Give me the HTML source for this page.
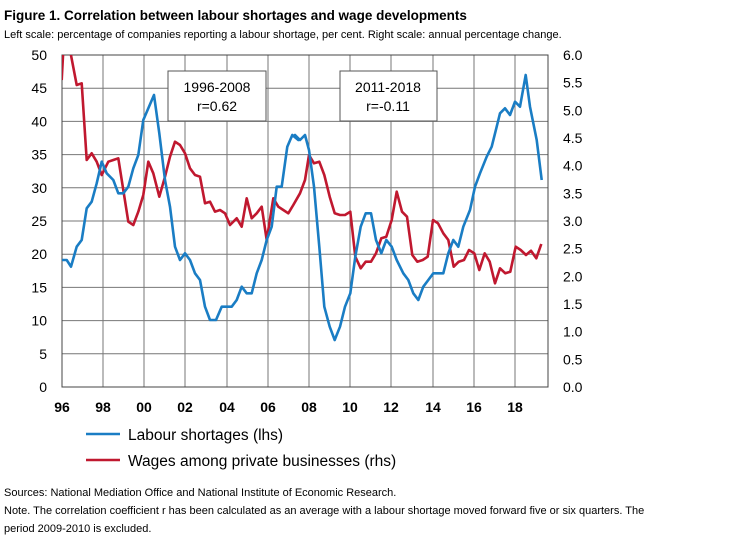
<!DOCTYPE html><html><head><style>
body{margin:0;width:750px;height:544px;background:#fff;font-family:"Liberation Sans",sans-serif;overflow:hidden;position:relative}
.t{position:absolute;white-space:nowrap;color:#000}
</style></head><body>
<div class="t" style="left:4px;top:8px;font-size:13.5px;font-weight:bold">Figure 1. Correlation between labour shortages and wage developments</div>
<div class="t" style="left:4px;top:29px;font-size:11px">Left scale: percentage of companies reporting a labour shortage, per cent. Right scale: annual percentage change.</div>
<svg id="s" width="750" height="544" style="position:absolute;left:0;top:0" font-family="Liberation Sans, sans-serif"></svg>
<div class="t" style="left:4px;top:487px;font-size:11px">Sources: National Mediation Office and National Institute of Economic Research.</div>
<div class="t" style="left:4px;top:505px;font-size:11px">Note. The correlation coefficient r has been calculated as an average with a labour shortage moved forward five or six quarters. The</div>
<div class="t" style="left:4px;top:523px;font-size:11px">period 2009-2010 is excluded.</div>
<script>
const s=document.getElementById('s');let h='';
const L=62,R=548,T=55,B=387;
h+='<defs><clipPath id="c"><rect x="'+L+'" y="'+T+'" width="'+(R-L)+'" height="'+(B-T)+'"/></clipPath></defs>';
for(let i=0;i<=10;i++){const y=B-(B-T)*i/10;h+='<line x1="'+L+'" x2="'+R+'" y1="'+y+'" y2="'+y+'" stroke="#777" stroke-width="1"/>';
h+='<text x="47" y="'+(y+5)+'" text-anchor="end" font-size="14">'+(i*5)+'</text>';}
for(let i=0;i<=12;i++){const y=B-(B-T)*i/12;h+='<text x="563" y="'+(y+5)+'" font-size="14">'+(i*0.5).toFixed(1)+'</text>';}
const xs=[62,103,144,185,227,268,309,350,391,433,474,515];const lab=['96','98','00','02','04','06','08','10','12','14','16','18'];
xs.forEach((x,i)=>{h+='<line x1="'+x+'" x2="'+x+'" y1="'+T+'" y2="'+B+'" stroke="#777"/>';h+='<text x="'+x+'" y="412" text-anchor="middle" font-size="14" font-weight="bold">'+lab[i]+'</text>';});
h+='<rect x="'+L+'" y="'+T+'" width="'+(R-L)+'" height="'+(B-T)+'" fill="none" stroke="#444"/>';
function P(a,off){return a.map(p=>[(off+p[0]/3),(40+p[1]/3)]);}
const b1=[[185,660],[200,660],[213,680],[230,620],[245,600],[260,505],[275,485],[290,430],[305,365],[320,400],[340,420],[355,460],[370,460],[385,440],[400,385],[415,345],[430,240],[462,165],[478,280],[495,420],[510,500],[525,620],[540,660],[555,640],[570,660],[585,700],[600,720],[615,800],[630,840],[648,840],[665,800],[695,800],[710,780],[725,740],[740,760],[755,760],[770,700],[785,660],[800,600],[815,560],[830,440],[845,440],[862,320],[877,285],[895,300]];
const b2=[[15,285],[30,300],[45,285],[57,330],[72,440],[88,620],[103,800],[119,860],[134,900],[150,860],[165,800],[181,760],[196,650],[212,560],[227,520],[243,520],[258,600],[274,640],[289,600],[305,620],[320,660],[340,700],[355,720],[370,760],[385,780],[400,740],[415,720],[430,700],[445,700],[460,700],[475,640],[490,600],[505,620],[520,560],[540,510],[555,440],[570,400],[590,350],[605,320],[620,260],[630,220],[645,205],[660,225],[675,185],[690,200],[707,105],[720,200],[740,300],[755,420]];
const r1=[[185,120],[190,30],[210,30],[230,135],[245,130],[260,360],[275,340],[290,365],[305,405],[325,365],[340,360],[355,355],[370,450],[385,545],[400,555],[415,515],[430,465],[445,365],[460,400],[478,470],[495,410],[510,350],[525,305],[540,315],[555,340],[570,385],[585,405],[600,410],[615,490],[630,485],[645,515],[660,510],[675,520],[690,555],[710,535],[725,560],[740,475],[755,535],[770,520],[785,500],[800,600],[820,475],[835,500],[850,510],[865,520],[880,495]];
const r2=[[30,460],[45,420],[57,345],[72,370],[88,365],[103,405],[119,470],[134,520],[150,525],[165,525],[181,515],[196,650],[212,685],[227,665],[243,665],[258,640],[274,595],[289,590],[305,540],[320,455],[336,515],[351,530],[367,645],[382,665],[398,660],[413,650],[429,540],[444,550],[460,580],[475,600],[491,680],[506,665],[522,660],[537,630],[553,640],[568,690],[584,640],[599,665],[615,730],[630,685],[646,700],[661,695],[677,620],[692,630],[708,645],[723,632],[739,655],[754,612]];
const blue=P(b1,0).concat(P(b2,290)),red=P(r1,0).concat(P(r2,290));
const pl=(a,c)=>'<polyline clip-path="url(#c)" fill="none" stroke="'+c+'" stroke-width="2.6" stroke-linejoin="round" points="'+a.map(p=>p[0].toFixed(1)+','+p[1].toFixed(1)).join(' ')+'"/>';
h+=pl(red,'#c0182f')+pl(blue,'#1a7dc4');
h+='<rect x="168" y="71" width="98" height="50" fill="#fff" stroke="#555"/><text x="217" y="92" text-anchor="middle" font-size="14">1996-2008</text><text x="217" y="111" text-anchor="middle" font-size="14">r=0.62</text>';
h+='<rect x="340" y="71" width="97" height="50" fill="#fff" stroke="#555"/><text x="388" y="92" text-anchor="middle" font-size="14">2011-2018</text><text x="388" y="111" text-anchor="middle" font-size="14">r=-0.11</text>';
h+='<line x1="86" x2="120" y1="434" y2="434" stroke="#1a7dc4" stroke-width="2.6"/><text x="128" y="440" font-size="15.5">Labour shortages (lhs)</text>';
h+='<line x1="86" x2="120" y1="460" y2="460" stroke="#c0182f" stroke-width="2.6"/><text x="128" y="466" font-size="15.5">Wages among private businesses (rhs)</text>';
s.innerHTML=h;
</script></body></html>
